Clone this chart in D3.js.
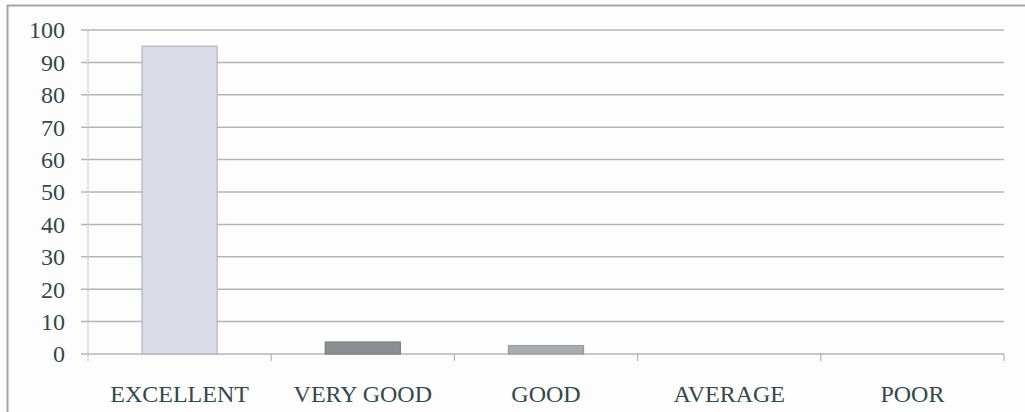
<!DOCTYPE html>
<html>
<head>
<meta charset="utf-8">
<script src="https://cdn.jsdelivr.net/npm/d3@7"></script>
<style>
    body { margin: 0; background: #fdfdfd; }
    text { font-family: "Liberation Serif", "Times New Roman", serif; fill: #33494a; }
</style>
</head>
<body>
<div id="chart"></div>
<script>
var categories = ["EXCELLENT", "VERY GOOD", "GOOD", "AVERAGE", "POOR"];
var values = [95, 3.7, 2.6, 0, 0];
var yTicks = [0, 10, 20, 30, 40, 50, 60, 70, 80, 90, 100];
var barColors = ["#d9dbe6", "#8c8e92", "#a9abaf", "#a9abaf", "#a9abaf"];
var barStroke = ["#b2b4bd", "#7a7c80", "#999b9f", "#999b9f", "#999b9f"];

function svgChartCreate() {
    var w = 1025;
    var h = 412;
    var left = 88, right = 1004, top = 30, bottom = 354;

    var svg = d3.select("#chart")
        .append("svg")
        .attr("width", w)
        .attr("height", h);

    // outer frame
    svg.append("rect")
        .attr("x", 7.5).attr("y", 5.5)
        .attr("width", 1040).attr("height", 420)
        .attr("fill", "none")
        .attr("stroke", "#a4a6a8")
        .attr("stroke-width", 2);

    var xScale = d3.scaleBand()
        .domain(categories)
        .range([left, right])
        .paddingInner(0.59)
        .paddingOuter(0.295);

    var yScale = d3.scaleLinear()
        .domain([0, 100])
        .range([bottom, top]);

    // gridlines
    svg.append("g")
        .selectAll("line")
        .data(yTicks)
        .enter()
        .append("line")
        .attr("x1", left - 7)
        .attr("x2", right)
        .attr("y1", function (d) { return yScale(d); })
        .attr("y2", function (d) { return yScale(d); })
        .attr("stroke", "#b4b5b8")
        .attr("stroke-width", 1.5);

    // y axis line
    svg.append("line")
        .attr("x1", left).attr("x2", left)
        .attr("y1", top).attr("y2", bottom + 7)
        .attr("stroke", "#c4c5c8")
        .attr("stroke-width", 1.2)
        .attr("stroke-dasharray", "3,1");

    // category boundary ticks
    var step = xScale.step();
    var bounds = d3.range(categories.length + 1).map(function (i) {
        return left + step * i;
    });
    svg.append("g")
        .selectAll("line")
        .data(bounds.slice(1))
        .enter()
        .append("line")
        .attr("x1", function (d) { return d; })
        .attr("x2", function (d) { return d; })
        .attr("y1", bottom)
        .attr("y2", bottom + 7)
        .attr("stroke", "#b4b5b8")
        .attr("stroke-width", 1.2);

    // bars
    svg.append("g")
        .selectAll("rect")
        .data(values)
        .enter()
        .filter(function (d) { return d > 0; })
        .append("rect")
        .attr("x", function (d, i) { return xScale(categories[i]); })
        .attr("y", function (d) { return yScale(d); })
        .attr("width", xScale.bandwidth())
        .attr("height", function (d) { return bottom - yScale(d); })
        .attr("fill", function (d, i) { return barColors[i]; })
        .attr("stroke", function (d, i) { return barStroke[i]; })
        .attr("stroke-width", 1.2);

    // y tick labels
    svg.append("g")
        .selectAll("text")
        .data(yTicks)
        .enter()
        .append("text")
        .attr("x", 65)
        .attr("y", function (d) { return yScale(d); })
        .attr("dy", "0.35em")
        .attr("text-anchor", "end")
        .style("font-size", "24px")
        .text(function (d) { return d; });

    // category labels
    svg.append("g")
        .selectAll("text")
        .data(categories)
        .enter()
        .append("text")
        .attr("x", function (d) { return xScale(d) + xScale.bandwidth() / 2; })
        .attr("y", 402)
        .attr("text-anchor", "middle")
        .style("font-size", "24px")
        .text(function (d) { return d; });
}

window.onload = svgChartCreate;
</script>
</body>
</html>
